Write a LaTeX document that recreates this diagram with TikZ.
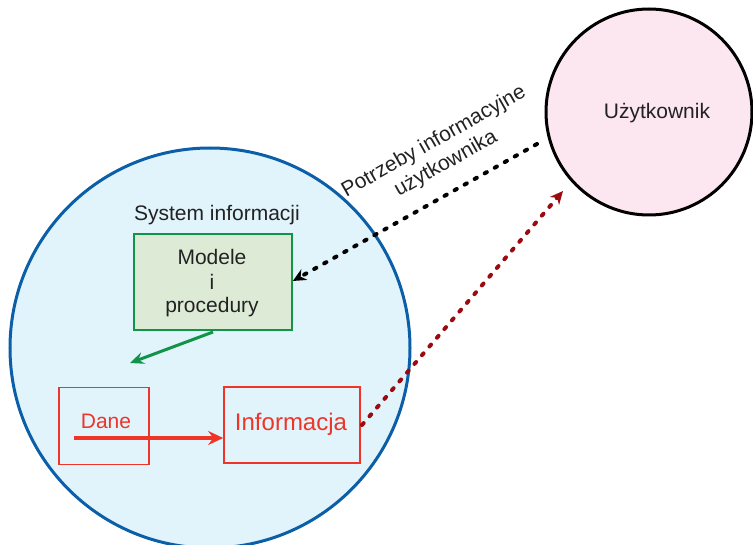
\documentclass[tikz,border=0pt]{standalone}
\usepackage{fontspec}
\setmainfont{Liberation Sans}
\usetikzlibrary{arrows.meta}
\definecolor{sysfill}{HTML}{E1F3FB}
\definecolor{sysline}{HTML}{0B5FA8}
\definecolor{userfill}{HTML}{FCE6EF}
\definecolor{boxfill}{HTML}{DDEBD6}
\definecolor{boxline}{HTML}{129448}
\definecolor{redc}{HTML}{EE3528}
\definecolor{darkred}{HTML}{9A0A10}
\definecolor{txt}{HTML}{222222}
\tikzset{
  lbl/.style={text=txt, font=\fontsize{21}{25}\selectfont, inner sep=0pt},
  redbox/.style={draw=redc, line width=1.6pt, fill=none},
  dotline/.style={line width=4pt, dash pattern=on 2.5pt off 9pt, line cap=round}
}
\begin{document}
\begin{tikzpicture}[x=1pt,y=-1pt]
\useasboundingbox (0,0) rectangle (753,545);
\clip (0,0) rectangle (753,545);
% circles
\node (sys) [circle, draw=sysline, fill=sysfill, line width=3pt, minimum size=400pt, inner sep=0pt] at (210,348) {};
\node (user) [circle, draw=black, fill=userfill, line width=3pt, minimum size=206pt, inner sep=0pt] at (649,112) {};
\node (usertxt) [lbl] at (657,113) {Użytkownik};
\node (systxt) [lbl] at (217,215) {System informacji};
% boxes
\node (mod) [draw=boxline, fill=boxfill, line width=1.6pt, minimum width=158pt, minimum height=96pt, inner sep=0pt] at (213,282) {};
\node (m1) [lbl] at (212,257) {Modele};
\node (m2) [lbl] at (212,282) {i};
\node (m3) [lbl] at (212,307) {procedury};
\node (dane) [redbox, minimum width=90pt, minimum height=77pt, inner sep=0pt] at (104,426) {};
\node (danetxt) [lbl, text=redc] at (106,421) {Dane};
\node (info) [redbox, minimum width=136pt, minimum height=76pt, inner sep=0pt] at (292,425) {};
\node (infotxt) [lbl, text=redc, font=\fontsize{24}{28}\selectfont] at (291,424) {Informacja};
% connectors
\coordinate (gs) at (213,332);
\coordinate (ge) at (130,363);
\draw[boxline, line width=3pt, -{Stealth[length=14pt,width=12pt,inset=5pt]}] (gs) -- (ge);
\coordinate (rs) at (74,438);
\draw[redc, line width=4pt, -{Stealth[length=15pt,width=14pt,inset=5pt]}] (rs) -- (info.west |- rs);
\coordinate (bs) at (537,144);
\draw[black, dotline, -{Stealth[length=13pt,width=12pt,inset=4pt]}] (bs) -- (mod.east |- 0,281);
\coordinate (ds) at (362,425);
\coordinate (de) at (563,191);
\draw[darkred, dotline, -{Stealth[length=13pt,width=12pt,inset=4pt]}] (ds) -- (de);
% label
\node (need1) [lbl, rotate=29.5] at (434,142) {Potrzeby informacyjne};
\node (need2) [lbl, rotate=29.5] at (446,164) {użytkownika};
\end{tikzpicture}
\end{document}
